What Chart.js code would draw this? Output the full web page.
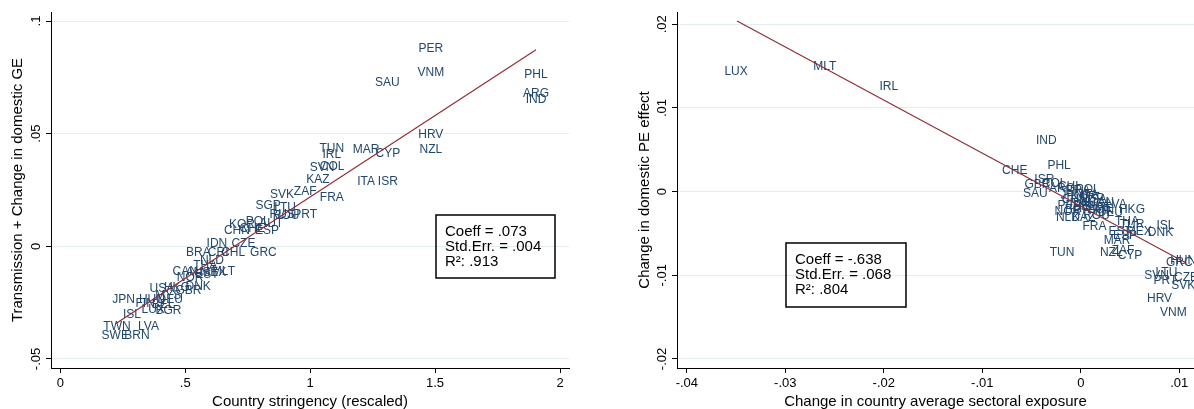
<!DOCTYPE html>
<html>
<head>
<meta charset="utf-8">
<script src="https://cdn.jsdelivr.net/npm/chart.js@4.4.0/dist/chart.umd.min.js"></script>
<style>
  html, body { margin: 0; padding: 0; background: #fff; overflow: hidden; }
  #wrap { position: relative; width: 1194px; height: 409px; }
  canvas { position: absolute; top: 0; }
</style>
</head>
<body>
<div id="wrap">
  <canvas id="left" width="590" height="409" style="left:0"></canvas>
  <canvas id="right" width="567" height="409" style="left:627px"></canvas>
</div>
<script>
// left panel: stringency vs transmission + change in domestic GE
const leftCountries = ["PER","VNM","SAU","PHL","ARG","IND","HRV","NZL","TUN","IRL","MAR","CYP","SVN","COL","KAZ","ZAF","FRA","ITA","ISR","SVK","SGP","LTU","RUS","ROU","PRT","KOR","POL","AUT","CHN","CHE","ESP","IDN","CZE","BRA","CRI","CHL","GRC","NLD","THA","CAN","AUS","MEX","EST","MLT","NOR","USA","HKG","GBR","DNK","MYS","JPN","HUN","DEU","FIN","BEL","LUX","BGR","ISL","TWN","LVA","SWE","BRN"];
const leftX = [1.483,1.483,1.309,1.904,1.904,1.904,1.483,1.483,1.087,1.087,1.224,1.311,1.048,1.088,1.031,0.980,1.087,1.224,1.311,0.887,0.832,0.900,0.888,0.904,0.980,0.727,0.790,0.844,0.707,0.768,0.827,0.627,0.733,0.553,0.632,0.692,0.813,0.607,0.580,0.500,0.552,0.612,0.587,0.653,0.520,0.407,0.467,0.513,0.552,0.432,0.253,0.367,0.440,0.340,0.412,0.372,0.433,0.287,0.227,0.353,0.220,0.307];
const leftY = [0.0877,0.0769,0.0727,0.0761,0.0678,0.0650,0.0497,0.0431,0.0434,0.0407,0.0431,0.0413,0.0350,0.0355,0.0295,0.0242,0.0214,0.0289,0.0289,0.0229,0.0181,0.0173,0.0142,0.0135,0.0142,0.0097,0.0108,0.0102,0.0068,0.0080,0.0068,0.0012,0.0012,-0.0030,-0.0027,-0.0030,-0.0030,-0.0062,-0.0088,-0.0111,-0.0119,-0.0118,-0.0128,-0.0111,-0.0138,-0.0187,-0.0183,-0.0195,-0.0181,-0.0217,-0.0236,-0.0239,-0.0236,-0.0254,-0.0257,-0.0279,-0.0286,-0.0302,-0.0358,-0.0358,-0.0398,-0.0398];
const leftFitX = [0.22, 1.904];
const leftFitY = [-0.0345, 0.0873];
const leftStats = ["Coeff = .073", "Std.Err. = .004", "R\u00b2: .913"];
const leftXTicks = [0, 0.5, 1, 1.5, 2];
const leftXTickLabels = ["0", ".5", "1", "1.5", "2"];
const leftYTicks = [-0.05, 0, 0.05, 0.1];
const leftYTickLabels = ["-.05", "0", ".05", ".1"];

// right panel: sectoral exposure vs domestic PE effect
const rightCountries = ["LUX","MLT","IRL","IND","PHL","CHE","ISR","GBR","COL","SAU","ARG","CHL","BRA","POL","JPN","KOR","USA","CAN","AUS","BEL","AUT","LVA","HKG","NOR","BGR","DEU","NLD","KAZ","ROU","FRA","THA","TUR","EST","MEX","ESP","DNK","ISL","MAR","TUN","NZL","ZAF","CYP","HUN","GRC","SVN","LTU","PRT","CZE","SVK","HRV","VNM","ITA","CHN","SGP","IDN","FIN","SWE","PER"];
const rightX = [-0.0350,-0.0260,-0.0195,-0.0035,-0.0022,-0.0067,-0.0037,-0.0044,-0.0027,-0.0046,-0.0019,-0.0011,-0.0003,0.0007,-0.0009,0.0003,0.0014,0.0021,0.0011,0.0004,0.0019,0.0036,0.0052,-0.0013,-0.0003,0.0030,-0.0013,0.0003,0.0016,0.0014,0.0047,0.0052,0.0040,0.0059,0.0045,0.0081,0.0086,0.0037,-0.0019,0.0031,0.0043,0.0050,0.0104,0.0100,0.0077,0.0087,0.0086,0.0107,0.0104,0.0080,0.0094,0.0009,-0.0006,0.0011,-0.0001,0.0024,0.0017,-0.0011];
const rightY = [0.0143,0.0149,0.0126,0.0061,0.0031,0.0025,0.0014,0.0008,0.0009,-0.0003,0.0003,0.0006,0.0001,0.0002,-0.0005,-0.0006,-0.0010,-0.0013,-0.0016,-0.0018,-0.0021,-0.0016,-0.0021,-0.0024,-0.0022,-0.0025,-0.0031,-0.0031,-0.0029,-0.0042,-0.0036,-0.0039,-0.0048,-0.0048,-0.0053,-0.0049,-0.0041,-0.0059,-0.0073,-0.0073,-0.0071,-0.0076,-0.0082,-0.0085,-0.0100,-0.0097,-0.0106,-0.0103,-0.0113,-0.0128,-0.0145,-0.0004,-0.0010,-0.0009,-0.0015,-0.0023,-0.0019,-0.0017];
const rightFitX = [-0.0349, 0.01075];
const rightFitY = [0.0204, -0.00855];
const rightStats = ["Coeff = -.638", "Std.Err. = .068", "R\u00b2: .804"];
const rightXTicks = [-0.04, -0.03, -0.02, -0.01, 0, 0.01];
const rightXTickLabels = ["-.04", "-.03", "-.02", "-.01", "0", ".01"];
const rightYTicks = [-0.02, -0.01, 0, 0.01, 0.02];
const rightYTickLabels = ["-.02", "-.01", "0", ".01", ".02"];

const FONT = "'Liberation Sans', Arial, Helvetica, sans-serif";
const labelColor = "#22476e";
const fitColor = "#8f2f36";
const gridColor = "#e3ecef";

function drawPanel(id, p) {
  const points = p.countries.map((c, i) => ({ x: p.x[i], y: p.y[i] }));
  const fit = p.fitX.map((v, i) => ({ x: v, y: p.fitY[i] }));

  const labelsPlugin = {
    id: "countryLabels",
    afterDatasetDraw(chart, args) {
      if (args.index !== 1) return;
      const ctx = chart.ctx;
      ctx.save();
      ctx.font = "12px " + FONT;
      ctx.fillStyle = labelColor;
      ctx.textAlign = "center";
      ctx.textBaseline = "middle";
      args.meta.data.forEach((el, i) => ctx.fillText(p.countries[i], el.x, el.y));
      ctx.restore();
    },
    afterDraw(chart) {
      const ctx = chart.ctx;
      const ys = chart.scales.y;
      // vertical tick labels, Stata style
      ctx.save();
      ctx.font = "13px " + FONT;
      ctx.fillStyle = "#000";
      ctx.textAlign = "center";
      ctx.textBaseline = "bottom";
      p.yTicks.forEach((v, i) => {
        ctx.save();
        ctx.translate(chart.chartArea.left - 8, ys.getPixelForValue(v));
        ctx.rotate(-Math.PI / 2);
        ctx.fillText(p.yTickLabels[i], 0, 0);
        ctx.restore();
      });
      // stats box
      const b = p.box;
      ctx.strokeStyle = "#000";
      ctx.lineWidth = 1.5;
      ctx.strokeRect(b[0], b[1], b[2], b[3]);
      ctx.font = "15px " + FONT;
      ctx.textAlign = "left";
      ctx.textBaseline = "middle";
      p.stats.forEach((s, i) => ctx.fillText(s, b[0] + 9, b[1] + 17 + i * 14.7));
      ctx.restore();
    }
  };

  new Chart(document.getElementById(id), {
    type: "scatter",
    data: {
      datasets: [
        { type: "line", data: fit, borderColor: fitColor, borderWidth: 1.2, pointRadius: 0, fill: false },
        { data: points, pointRadius: 0, pointHoverRadius: 0, backgroundColor: "transparent", borderColor: "transparent" }
      ]
    },
    options: {
      responsive: false,
      animation: false,
      devicePixelRatio: 1,
      layout: { padding: { top: 12, right: p.padRight, left: 0, bottom: 0 } },
      plugins: { legend: { display: false }, tooltip: { enabled: false } },
      scales: {
        x: {
          type: "linear",
          min: p.xMin, max: p.xMax,
          afterBuildTicks: s => { s.ticks = p.xTicks.map(v => ({ value: v })); },
          afterFit: s => { s.height = 41; },
          ticks: {
            autoSkip: false, maxRotation: 0, padding: 3, color: "#000",
            font: { family: FONT, size: 13 },
            callback: (v, i) => p.xTickLabels[i]
          },
          grid: { drawOnChartArea: false, drawTicks: true, tickLength: 5, tickColor: "#000", tickWidth: 1 },
          border: { display: true, color: "#000", width: 1 },
          title: { display: true, text: p.xTitle, color: "#000", font: { family: FONT, size: 15, lineHeight: 1 }, padding: 0 }
        },
        y: {
          type: "linear",
          min: p.yMin, max: p.yMax,
          afterBuildTicks: s => { s.ticks = p.yTicks.map(v => ({ value: v })); },
          afterFit: s => { s.width = p.yWidth; },
          ticks: { display: false },
          grid: { color: gridColor, lineWidth: 1, drawTicks: true, tickLength: 5, tickColor: "#000", tickWidth: 1 },
          border: { display: true, color: "#000", width: 1 },
          title: { display: true, text: p.yTitle, color: "#000", font: { family: FONT, size: 15, lineHeight: 1 }, padding: { top: 10, bottom: 0 } }
        }
      }
    },
    plugins: [labelsPlugin]
  });
}

drawPanel("left", {
  countries: leftCountries, x: leftX, y: leftY, fitX: leftFitX, fitY: leftFitY,
  stats: leftStats, box: [436, 215, 119, 63],
  xTicks: leftXTicks, xTickLabels: leftXTickLabels, yTicks: leftYTicks, yTickLabels: leftYTickLabels,
  xMin: -0.037, xMax: 2.036, yMin: -0.054, yMax: 0.104,
  padRight: 21, yWidth: 51,
  xTitle: "Country stringency (rescaled)", yTitle: "Transmission + Change in domestic GE"
});

drawPanel("right", {
  countries: rightCountries, x: rightX, y: rightY, fitX: rightFitX, fitY: rightFitY,
  stats: rightStats, box: [159, 243, 120, 64],
  xTicks: rightXTicks, xTickLabels: rightXTickLabels, yTicks: rightYTicks, yTickLabels: rightYTickLabels,
  xMin: -0.041, xMax: 0.0115, yMin: -0.02108, yMax: 0.02147,
  padRight: 0, yWidth: 50,
  xTitle: "Change in country average sectoral exposure", yTitle: "Change in domestic PE effect"
});
</script>
</body>
</html>
